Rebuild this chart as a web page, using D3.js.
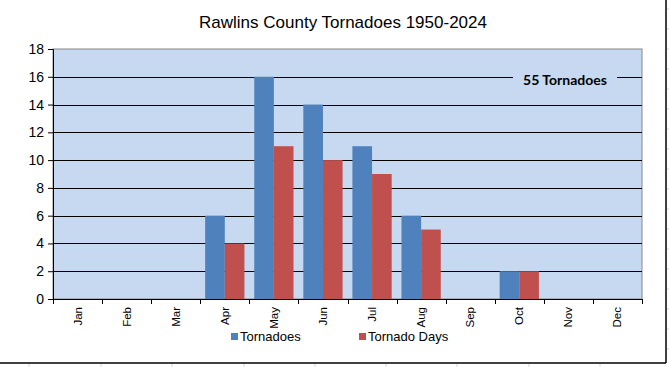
<!DOCTYPE html>
<html lang="en">
<head>
<meta charset="UTF-8">
<title>Rawlins County Tornadoes</title>
<script src="https://d3js.org/d3.v7.min.js"></script>
<style>
    html, body { margin: 0; padding: 0; background: #fff; }
</style>
</head>
<body>
<div id="chart"></div>
<script>
    const months = ['Jan', 'Feb', 'Mar', 'Apr', 'May', 'Jun', 'Jul', 'Aug', 'Sep', 'Oct', 'Nov', 'Dec'];
    const tornadoes = [0, 0, 0, 6, 16, 14, 11, 6, 0, 2, 0, 0];
    const tornadoDays = [0, 0, 0, 4, 11, 10, 9, 5, 0, 2, 0, 0];
    const yTicks = [0, 2, 4, 6, 8, 10, 12, 14, 16, 18];
    const seriesNames = ['Tornadoes', 'Tornado Days'];
    const colors = ['#4f81bd', '#c0504d'];

    const width = 669, height = 367;
    const plot = {left: 53, right: 642, top: 49, bottom: 299};

    const svg = d3.select('#chart').append('svg')
        .attr('width', width)
        .attr('height', height)
        .style('font-family', 'Liberation Sans, Arial, sans-serif');

    // faint spreadsheet grid outside the chart
    const cellX = [29, 101, 172, 244, 315, 386, 457, 529, 600];
    svg.selectAll('.cellx').data(cellX).enter().append('line')
        .attr('x1', d => d).attr('x2', d => d)
        .attr('y1', 363).attr('y2', height)
        .attr('stroke', '#d9d9d9');
    const cellY = [9, 29, 49, 69, 89, 109, 129, 149, 169, 189, 209, 229, 249, 269, 289, 309, 329, 349];
    svg.selectAll('.celly').data(cellY).enter().append('line')
        .attr('x1', 666).attr('x2', width)
        .attr('y1', d => d).attr('y2', d => d)
        .attr('stroke', '#d9d9d9');
    // chart frame
    svg.append('line').attr('x1', 666).attr('x2', 666).attr('y1', 0).attr('y2', 363)
        .attr('stroke', '#000').attr('stroke-width', 1.5);
    svg.append('line').attr('x1', 0).attr('x2', 666).attr('y1', 363).attr('y2', 363)
        .attr('stroke', '#000').attr('stroke-width', 1.5);

    const x = d3.scaleBand().domain(months).range([plot.left, plot.right]).padding(0);
    const y = d3.scaleLinear().domain([0, 18]).range([plot.bottom, plot.top]);

    // plot area
    svg.append('rect')
        .attr('x', plot.left).attr('y', plot.top)
        .attr('width', plot.right - plot.left).attr('height', plot.bottom - plot.top)
        .attr('fill', '#c6d9f0')
        .attr('stroke', '#868686');

    // gridlines
    svg.selectAll('.grid').data(yTicks.filter(d => d > 0 && d < 18)).enter().append('line')
        .attr('x1', plot.left).attr('x2', plot.right)
        .attr('y1', d => Math.round(y(d)) + 0.5).attr('y2', d => Math.round(y(d)) + 0.5)
        .attr('stroke', '#000');

    // bars
    const bw = x.bandwidth();
    [tornadoes, tornadoDays].forEach((series, s) => {
        svg.selectAll('.bar' + s).data(series).enter().append('rect')
            .attr('x', (d, i) => x(months[i]) + bw * 0.1 + s * bw * 0.4)
            .attr('y', d => y(d))
            .attr('width', bw * 0.4)
            .attr('height', d => y(0) - y(d))
            .attr('fill', colors[s]);
    });

    // y axis
    const yAxis = svg.append('g')
        .attr('transform', `translate(${plot.left},0)`)
        .call(d3.axisLeft(y).tickValues(yTicks).tickSize(5).tickPadding(4));
    yAxis.select('.domain').attr('stroke', '#000');
    yAxis.selectAll('text').attr('font-size', 14).attr('fill', '#000')
        .attr('font-family', 'Liberation Sans, Arial, sans-serif');

    // x axis
    svg.append('line').attr('x1', plot.left).attr('x2', plot.right)
        .attr('y1', plot.bottom + 0.5).attr('y2', plot.bottom + 0.5).attr('stroke', '#000');
    const bounds = months.map(m => x(m)).concat([plot.right]);
    svg.selectAll('.xt').data(bounds).enter().append('line')
        .attr('x1', d => Math.round(d) + 0.5).attr('x2', d => Math.round(d) + 0.5)
        .attr('y1', plot.bottom).attr('y2', plot.bottom + 5)
        .attr('stroke', '#000');
    svg.selectAll('.xl').data(months).enter().append('text')
        .attr('transform', d => `translate(${x(d) + bw / 2 + 4},${plot.bottom + 8}) rotate(-90)`)
        .attr('text-anchor', 'end')
        .attr('font-size', 11.5)
        .attr('fill', '#000')
        .text(d => d);

    // title
    svg.append('text')
        .attr('x', 343).attr('y', 28)
        .attr('text-anchor', 'middle')
        .attr('font-size', 17)
        .attr('fill', '#000')
        .text('Rawlins County Tornadoes 1950-2024');

    // annotation
    svg.append('rect').attr('x', 513).attr('y', 70).attr('width', 104).attr('height', 18).attr('fill', '#c6d9f0');
    svg.append('text')
        .attr('x', 565).attr('y', 85)
        .attr('text-anchor', 'middle')
        .attr('font-family', 'Lato, Carlito, sans-serif')
        .attr('font-weight', 'bold')
        .attr('font-size', 14)
        .attr('fill', '#000')
        .text('55 Tornadoes');

    // legend
    const legendX = [231, 359];
    seriesNames.forEach((name, i) => {
        svg.append('rect').attr('x', legendX[i]).attr('y', 333).attr('width', 7).attr('height', 7).attr('fill', colors[i]);
        svg.append('text').attr('x', legendX[i] + 9).attr('y', 341)
            .attr('font-size', 13).attr('fill', '#000').text(name);
    });
</script>
</body>
</html>
